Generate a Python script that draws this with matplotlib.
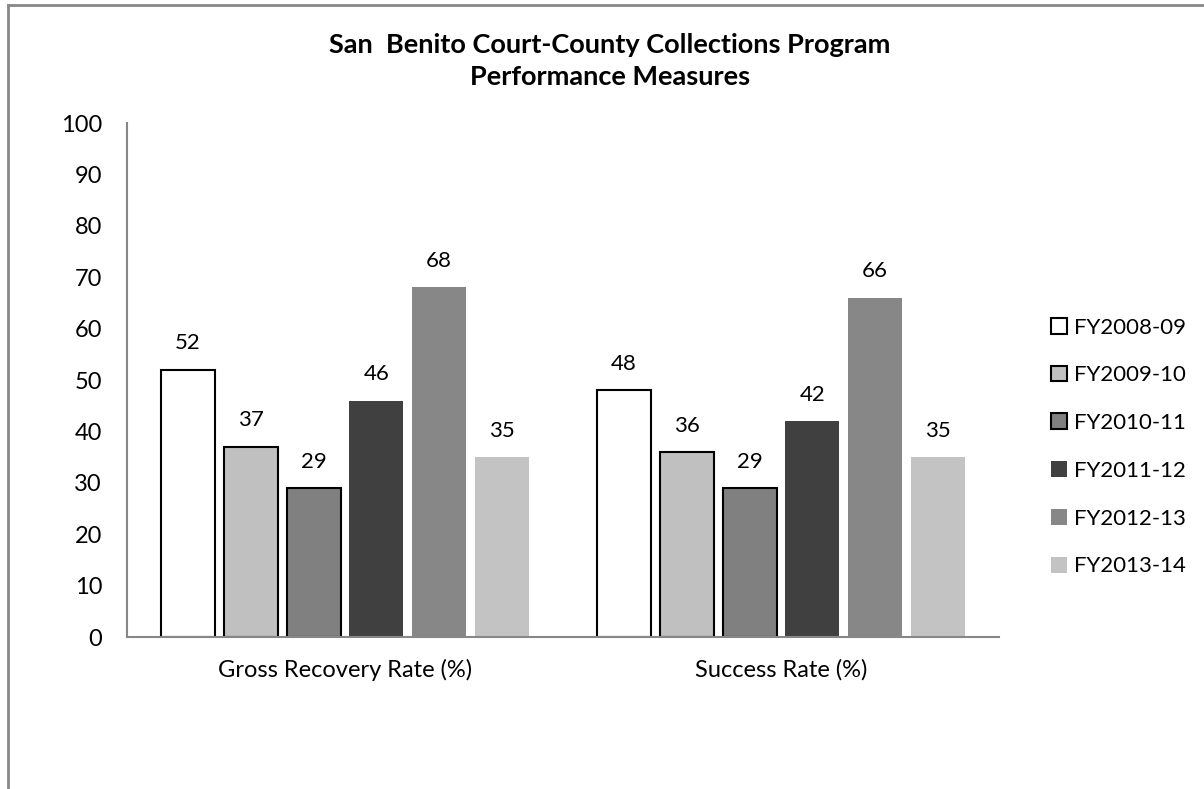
import numpy as np
import matplotlib
matplotlib.use("Agg")
import matplotlib.pyplot as plt
from matplotlib.patches import Patch
from matplotlib.lines import Line2D

# data
categories = ["Gross Recovery Rate (%)", "Success Rate (%)"]
years = ["FY2008-09", "FY2009-10", "FY2010-11", "FY2011-12", "FY2012-13", "FY2013-14"]
values = [
    [52, 48],
    [37, 36],
    [29, 29],
    [46, 42],
    [68, 66],
    [35, 35],
]
colors = ["#ffffff", "#c0c0c0", "#808080", "#404040", "#878787", "#c3c3c3"]
edged = [True, True, True, False, False, False]

plt.rcParams['font.family'] = ['Lato', 'DejaVu Sans']

fig = plt.figure(figsize=(12.04, 7.89), dpi=100)
ax = fig.add_axes([0.1055, 0.1926, 0.7243, 0.6515])

x = np.arange(len(categories))
width = 0.124
step = 0.144

for i, yr in enumerate(years):
    pos = x + (i - 2.5) * step
    bars = ax.bar(pos, values[i], width, color=colors[i],
                  edgecolor="black" if edged[i] else colors[i],
                  linewidth=1.5 if edged[i] else 0, label=yr)
    for b, v in zip(bars, values[i]):
        ax.annotate(str(v), (b.get_x() + b.get_width() / 2, v),
                    xytext=(0, 19), textcoords="offset points",
                    ha="center", va="center", fontsize=16)

ax.set_xlim(-0.5, 1.5)
ax.set_ylim(0, 100)
ax.set_yticks(range(0, 101, 10))
ax.set_xticks(x)
ax.set_xticklabels(categories, fontsize=17)
ax.tick_params(axis="y", length=0, pad=18, labelsize=17)
ax.tick_params(axis="x", length=0, pad=16)

for s in ["top", "right"]:
    ax.spines[s].set_visible(False)
for s in ["left", "bottom"]:
    ax.spines[s].set_color("#878787")
    ax.spines[s].set_linewidth(1.5)

# legend
handles = [Patch(facecolor=colors[i], edgecolor="black" if edged[i] else colors[i],
                 linewidth=1.5 if edged[i] else 0) for i in range(len(years))]
ax.legend(handles, years, loc="center left", bbox_to_anchor=(1051 / 1204, 0.4335),
          bbox_transform=fig.transFigure, frameon=False, fontsize=16,
          handlelength=0.72, handleheight=0.72, handletextpad=0.3,
          labelspacing=1.25, borderpad=0, borderaxespad=0)

# title
fig.text(0.5066, 0.923, "San  Benito Court-County Collections Program\nPerformance Measures",
         ha="center", va="center", fontsize=19.5, fontweight="bold", linespacing=1.4)

# outer chart frame (top and left edges visible)
x0 = 8 / 1204
y0 = 1 - 4.5 / 789
fig.add_artist(Line2D([x0, x0], [0, y0], color="#878787", lw=2))
fig.add_artist(Line2D([x0, 1], [y0, y0], color="#878787", lw=2))

fig.savefig("out.png", dpi=100)
